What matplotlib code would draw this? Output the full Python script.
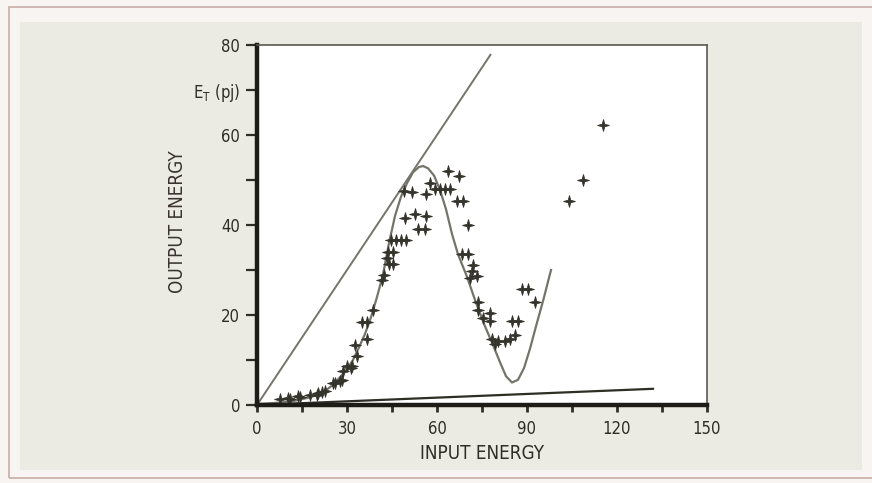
import matplotlib
matplotlib.use("Agg")
import matplotlib.pyplot as plt
import numpy as np
from matplotlib.patches import Rectangle
from matplotlib.path import Path

# ---------------- data ----------------
# reference lines
line_hi_x = [0, 78]
line_hi_y = [0, 78]
line_lo_x = [0, 132]
line_lo_y = [0, 3.6]

# theoretical curve
curve_x = [0, 5, 10, 13, 17, 20, 22, 25, 28, 30, 32, 34, 36, 38, 40, 42, 44, 46,
           48, 50, 52, 54, 55.4, 57, 59, 61, 63, 65, 67, 70, 73, 76, 79, 81, 83,
           85, 87, 89, 91, 93, 95.5, 98]
curve_y = [0.2, 0.4, 0.7, 1.0, 1.6, 2.2, 2.8, 4.3, 6.4, 8.0, 10.0, 12.8, 15.8,
           19.5, 24, 29, 36, 42, 46.3, 49.3, 51.7, 52.9, 53.1, 52.6, 51, 47.8,
           43.5, 38, 33.5, 28.5, 22.7, 17.5, 12.8, 9.5, 6.4, 5.0, 5.6, 8.2, 12.5,
           17.5, 23.5, 30]

# measured points
meas_x = [7.7, 10.4, 11, 13.8, 14.3, 17.7, 19.9, 20.4, 21.6, 22.7, 25.4, 26,
          27.7, 28.2, 28.8, 29.9, 31.2, 31.6, 33.2, 32.7, 36.6, 34.9, 36.6, 38.8,
          41.6, 42.2, 43.2, 44.1, 45.4, 43.8, 45.4, 44.5, 46.2, 47.9, 49.6,
          49, 51.6, 56.2, 57.7, 59.3, 61, 62.7, 64.3, 63.8, 67.4, 66.8, 68.6,
          49.4, 52.7, 56.3, 53.8, 56, 70.4,
          68.2, 70.4, 72.1, 71.6, 73.2, 71, 73.8, 73.8, 77.7, 75.4, 77.7, 79.3,
          78.2, 80.4, 82.7, 84.3, 86, 84.9, 87.1, 88.2, 90.4, 92.7,
          104, 108.6, 115.4]
meas_y = [1.3, 1.6, 1.4, 1.9, 1.7, 2.3, 2.3, 2.7, 2.8, 3.1, 4.9, 4.9,
          5.3, 5.6, 7.6, 8.6, 8.2, 8.6, 11.0, 13.3, 14.6, 18.4, 18.4, 21.1,
          27.8, 28.8, 32.7, 31.4, 31.4, 33.9, 33.9, 36.7, 36.7, 36.7, 36.7,
          47.5, 47.3, 46.8, 49.4, 48.1, 48.1, 48.1, 48.1, 51.9, 51.0, 45.3, 45.3,
          41.6, 42.4, 42.0, 39.1, 39.1, 40.0,
          33.6, 33.6, 31.2, 29.7, 28.6, 28.2, 23.0, 21.2, 20.5, 19.4, 18.6, 13.5,
          14.6, 14.2, 14.2, 14.7, 15.5, 18.6, 18.6, 25.8, 25.8, 23.0,
          45.4, 49.9, 62.3]

x_ticks = [0, 30, 60, 90, 120, 150]
x_minor = [15, 45, 75, 105, 135]
y_ticks = [0, 20, 40, 60, 70, 80]
y_ticklabels = ["0", "20", "40", "60", r"E$_\mathrm{T}$ (pj)", "80"]
y_minor = [10, 30, 50]

# ---------------- style ----------------
plt.rcParams["font.family"] = ["DejaVu Sans"]
plt.rcParams["font.stretch"] = "condensed"
plt.rcParams["mathtext.default"] = "regular"

ink = "#2e2d26"
line_col = "#75746a"

# four-pointed star marker
ang = np.arange(8) * np.pi / 4 + np.pi / 2
rad = np.where(np.arange(8) % 2 == 0, 1.0, 0.3)
verts = np.column_stack([rad * np.cos(ang), rad * np.sin(ang)])
verts = np.vstack([verts, verts[:1]])
star = Path(verts, closed=True)

fig = plt.figure(figsize=(8.72, 4.83), dpi=100, facecolor="#f7f4f1")
W, H = 872, 483
# grey panel and frame
fig.patches.append(Rectangle((20 / W, 1 - 470 / H), (862 - 20) / W, (470 - 22) / H,
                             transform=fig.transFigure, facecolor="#ebebe3",
                             edgecolor="none", zorder=-2))
fig.patches.append(Rectangle((9 / W, 1 - 478 / H), (880 - 9) / W, (478 - 7) / H,
                             transform=fig.transFigure, facecolor="none",
                             edgecolor="#c9aea6", linewidth=1.2, zorder=-1))

ax = fig.add_axes([257 / W, 1 - 405 / H, (707 - 257) / W, (405 - 45) / H])
ax.set_zorder(5)
ax.set_facecolor("white")
ax.set_xlim(0, 150)
ax.set_ylim(0, 80)

ax.plot(line_hi_x, line_hi_y, color=line_col, lw=1.4, solid_capstyle="butt")
ax.plot(line_lo_x, line_lo_y, color=ink, lw=1.6)
ax.plot(curve_x, curve_y, color=line_col, lw=1.6)
ax.plot(meas_x, meas_y, linestyle="none", marker=star, markersize=8.5,
        color="#35342c", markeredgewidth=0.6)

for s in ["left", "bottom"]:
    ax.spines[s].set_linewidth(3.2)
    ax.spines[s].set_color("#1d1c17")
for s in ["top", "right"]:
    ax.spines[s].set_linewidth(1.2)
    ax.spines[s].set_color("#5a5950")

ax.set_xticks(x_ticks)
ax.set_xticks(x_minor, minor=True)
ax.set_yticks(y_ticks)
ax.set_yticklabels(y_ticklabels)
ax.set_yticks(y_minor, minor=True)
ax.tick_params(axis="y", which="both", direction="out", length=8, width=1.6,
               color=ink, pad=4, labelsize=12, labelcolor=ink)
ax.tick_params(axis="x", which="both", direction="out", length=5, width=2,
               color=ink, pad=6, labelsize=12, labelcolor=ink)

ax.set_xlabel("INPUT ENERGY", fontsize=13.5, color=ink, labelpad=4)
ax.set_ylabel("OUTPUT ENERGY", fontsize=13.5, color="#3a3230")
ax.yaxis.set_label_coords(-0.155, 0.51)

fig.savefig("out.png", dpi=100, facecolor=fig.get_facecolor())
